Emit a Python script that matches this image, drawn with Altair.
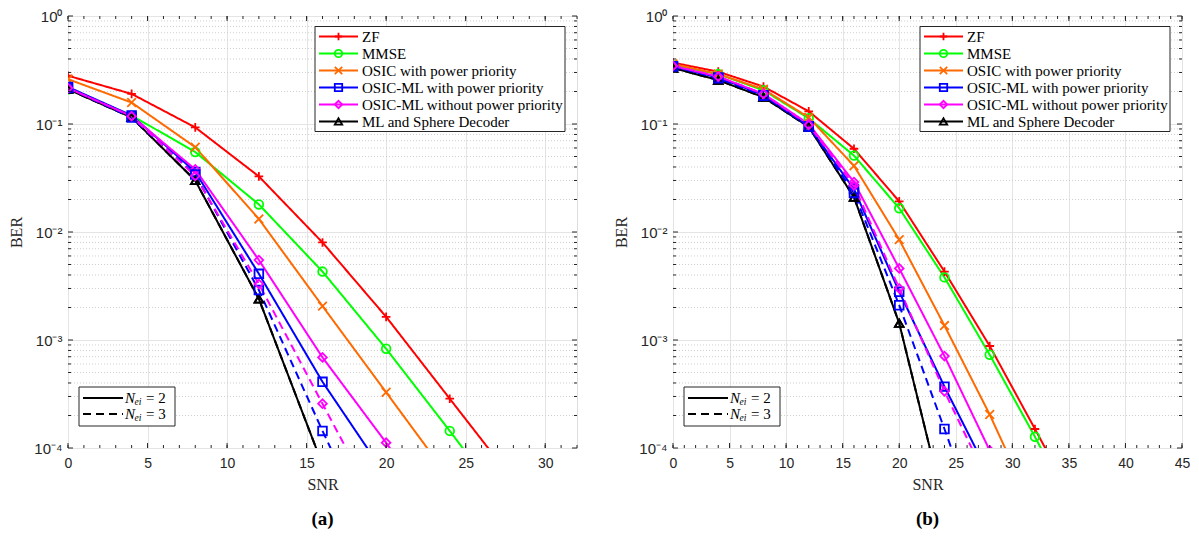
import altair as alt
import pandas as pd

SNR = [0, 4, 8, 12, 16, 20, 24, 28, 32, 36]

SERIES = ["ZF", "MMSE", "OSIC with power priority", "OSIC-ML with power priority",
          "OSIC-ML without power priority", "ML and Sphere Decoder"]
COLORS = ["#ff0000", "#00ff00", "#ff6a00", "#0000ff", "#ff00ff", "#000000"]
SHAPES = ["M-1,0L1,0M0,-1L0,1", "circle", "M-1,-1L1,1M-1,1L1,-1", "square", "diamond", "triangle-up"]
NEI = ["2", "3"]
NEI_LABELS = ["= 2", "= 3"]

# ---- panel (a) ----
A_ZF = [0.28, 0.19, 0.093, 0.0327, 0.008, 0.00164, 2.86e-4, 5.0e-5]
A_MMSE = [0.21, 0.12, 0.055, 0.018, 0.0043, 8.3e-4, 1.44e-4, 2.4e-5]
A_OSIC = [0.26, 0.158, 0.061, 0.0132, 0.00206, 3.28e-4, 5.2e-5]
A_OSICML_PP_2 = [0.22, 0.12, 0.036, 0.0041, 4.1e-4, 5.5e-5]
A_OSICML_NPP_2 = [0.215, 0.118, 0.038, 0.0055, 6.9e-4, 1.12e-4, 1.6e-5]
A_ML_2 = [0.21, 0.115, 0.03, 0.0024, 7e-5]
A_OSICML_PP_3 = [0.215, 0.115, 0.034, 0.0029, 1.44e-4, 8e-6]
A_OSICML_NPP_3 = [0.215, 0.118, 0.033, 0.0033, 2.57e-4, 2e-5]
A_ML_3 = [0.21, 0.115, 0.03, 0.0024, 7e-5]

# ---- panel (b) ----
B_ZF = [0.37, 0.305, 0.222, 0.131, 0.059, 0.0192, 0.0043, 8.8e-4, 1.5e-4, 2.5e-5]
B_MMSE = [0.35, 0.29, 0.205, 0.113, 0.051, 0.0166, 0.0038, 7.3e-4, 1.27e-4, 2.0e-5]
B_OSIC = [0.36, 0.29, 0.21, 0.115, 0.041, 0.0085, 0.00136, 2.04e-4, 2.5e-5]
B_OSICML_PP_2 = [0.34, 0.27, 0.185, 0.095, 0.025, 0.0028, 3.7e-4, 5.5e-5]
B_OSICML_NPP_2 = [0.345, 0.275, 0.19, 0.1, 0.029, 0.0046, 7.1e-4, 9.5e-5, 1.2e-5]
B_ML_2 = [0.33, 0.255, 0.177, 0.094, 0.021, 0.00143, 2.8e-5]
B_OSICML_PP_3 = [0.34, 0.265, 0.183, 0.095, 0.023, 0.0021, 1.5e-4, 1e-5]
B_OSICML_NPP_3 = [0.345, 0.275, 0.19, 0.098, 0.027, 0.003, 3.35e-4, 4.5e-5]
B_ML_3 = [0.33, 0.255, 0.177, 0.094, 0.021, 0.00143, 2.8e-5]

CURVES = [
    ("a", SERIES[0], "2", A_ZF), ("a", SERIES[1], "2", A_MMSE), ("a", SERIES[2], "2", A_OSIC),
    ("a", SERIES[5], "2", A_ML_2), ("a", SERIES[3], "2", A_OSICML_PP_2), ("a", SERIES[4], "2", A_OSICML_NPP_2),
    ("a", SERIES[5], "3", A_ML_3), ("a", SERIES[3], "3", A_OSICML_PP_3), ("a", SERIES[4], "3", A_OSICML_NPP_3),
    ("b", SERIES[0], "2", B_ZF), ("b", SERIES[1], "2", B_MMSE), ("b", SERIES[2], "2", B_OSIC),
    ("b", SERIES[5], "2", B_ML_2), ("b", SERIES[3], "2", B_OSICML_PP_2), ("b", SERIES[4], "2", B_OSICML_NPP_2),
    ("b", SERIES[5], "3", B_ML_3), ("b", SERIES[3], "3", B_OSICML_PP_3), ("b", SERIES[4], "3", B_OSICML_NPP_3),
]

rows = []
for k, (p, s, n, vals) in enumerate(CURVES):
    for i, v in enumerate(vals):
        rows.append({"panel": p, "series": s, "nei": n, "key": f"{k:02d}", "snr": SNR[i], "ber": v})
df = pd.DataFrame(rows)

W, H = 509, 432
AX = "#262626"
SERIF = "Liberation Serif"
SANS = "Liberation Sans"

color_scale = alt.Scale(domain=SERIES, range=COLORS)
shape_scale = alt.Scale(domain=SERIES, range=SHAPES)
dash_scale = alt.Scale(domain=NEI, range=[[1, 0], [8, 5]])

y_label_expr = ("datum.value > 0.5 ? '10⁰' : datum.value > 0.05 ? '10⁻¹' : "
                "datum.value > 0.005 ? '10⁻²' : datum.value > 0.0005 ? '10⁻³' : '10⁻⁴'")

minor_y = pd.DataFrame({"v": [m * 10.0 ** e for e in range(-4, 0) for m in range(2, 10)]})
major_y = pd.DataFrame({"v": [1e-4, 1e-3, 1e-2, 1e-1, 1.0]})
one = pd.DataFrame({"z": [0]})


def make_panel(pid, xmax, caption):
    d = df[df.panel == pid]
    xs = alt.Scale(domain=[0, xmax], nice=False, zero=False)
    ys = alt.Scale(type="log", domain=[1e-4, 1], nice=False)
    xaxis = alt.Axis(values=list(range(0, xmax + 1, 5)), title="SNR", grid=True, ticks=False,
                     domain=False, labelFont=SANS, labelFontSize=14, labelColor=AX, labelPadding=8,
                     titleFont=SERIF, titleFontSize=16, titleFontWeight="normal", titleColor=AX,
                     titlePadding=6, gridColor="#e4e4e4", labelFlush=False)
    yaxis = alt.Axis(values=[1e-4, 1e-3, 1e-2, 1e-1, 1.0], labelExpr=y_label_expr, title="BER",
                     grid=True, ticks=False, domain=False, labelFont=SANS, labelFontSize=15,
                     labelColor=AX, labelPadding=6, titleFont=SERIF, titleFontSize=16,
                     titleFontWeight="normal", titleColor=AX, titlePadding=9, gridColor="#e4e4e4")

    xminor = pd.DataFrame({"t": list(range(0, xmax + 1))})
    xmajor = pd.DataFrame({"t": list(range(0, xmax + 1, 5))})

    layers = []
    # minor y grid
    layers.append(alt.Chart(minor_y).mark_rule(color="#cfcfcf", strokeDash=[1, 2], strokeWidth=1).encode(
        y=alt.Y("v:Q", scale=ys, axis=yaxis), x=alt.value(0), x2=alt.value(W)))
    # data lines
    layers.append(alt.Chart(d).mark_line(strokeWidth=2, clip=True).encode(
        x=alt.X("snr:Q", scale=xs, axis=xaxis),
        y=alt.Y("ber:Q", scale=ys, axis=yaxis),
        color=alt.Color("series:N", scale=color_scale, legend=None),
        strokeDash=alt.StrokeDash("nei:N", scale=dash_scale, legend=None),
        detail="key:N", order="snr:Q"))
    # markers
    layers.append(alt.Chart(d).mark_point(filled=False, strokeWidth=1.8, size=75, clip=True, opacity=1).encode(
        x=alt.X("snr:Q", scale=xs, axis=xaxis),
        y=alt.Y("ber:Q", scale=ys, axis=yaxis),
        color=alt.Color("series:N", scale=color_scale, legend=None),
        shape=alt.Shape("series:N", scale=shape_scale, legend=None)))
    # inward ticks (x bottom/top, y left/right)
    for df_t, ln in ((xminor, 3), (xmajor, 5)):
        layers.append(alt.Chart(df_t).mark_rule(color=AX, strokeWidth=1).encode(
            x=alt.X("t:Q", scale=xs, axis=xaxis), y=alt.value(H), y2=alt.value(H - ln)))
        layers.append(alt.Chart(df_t).mark_rule(color=AX, strokeWidth=1).encode(
            x=alt.X("t:Q", scale=xs, axis=xaxis), y=alt.value(0), y2=alt.value(ln)))
    for df_t, ln in ((minor_y, 3), (major_y, 5)):
        layers.append(alt.Chart(df_t).mark_rule(color=AX, strokeWidth=1).encode(
            y=alt.Y("v:Q", scale=ys, axis=yaxis), x=alt.value(0), x2=alt.value(ln)))
        layers.append(alt.Chart(df_t).mark_rule(color=AX, strokeWidth=1).encode(
            y=alt.Y("v:Q", scale=ys, axis=yaxis), x=alt.value(W), x2=alt.value(W - ln)))

    # main legend
    lx0, lx1 = 247, 497
    leg = pd.DataFrame({"series": SERIES, "ly": [20.5 + 17.0 * i for i in range(len(SERIES))]})
    layers.append(alt.Chart(one).mark_rect(fill="white", stroke=AX, strokeWidth=1).encode(
        x=alt.value(lx0), x2=alt.value(lx1), y=alt.value(10.5), y2=alt.value(115.5)))
    layers.append(alt.Chart(leg).mark_rule(strokeWidth=2).encode(
        x=alt.value(lx0 + 4), x2=alt.value(lx0 + 43),
        y=alt.Y("ly:Q", scale=None, axis=None),
        color=alt.Color("series:N", scale=color_scale, legend=None)))
    layers.append(alt.Chart(leg).mark_point(filled=False, strokeWidth=1.8, size=55, opacity=1).encode(
        x=alt.value(lx0 + 23.5), y=alt.Y("ly:Q", scale=None, axis=None),
        color=alt.Color("series:N", scale=color_scale, legend=None),
        shape=alt.Shape("series:N", scale=shape_scale, legend=None)))
    layers.append(alt.Chart(leg).mark_text(align="left", baseline="middle", font=SERIF, fontSize=15,
                                           color="black").encode(
        x=alt.value(lx0 + 47), y=alt.Y("ly:Q", scale=None, axis=None), text="series:N"))

    # line-style legend
    nl = pd.DataFrame({"nei": NEI, "lab": NEI_LABELS, "ly": [H - 50.0, H - 34.0]})
    layers.append(alt.Chart(one).mark_rect(fill="white", stroke=AX, strokeWidth=1).encode(
        x=alt.value(11), x2=alt.value(107), y=alt.value(H - 61), y2=alt.value(H - 22)))
    layers.append(alt.Chart(nl).mark_rule(strokeWidth=2, color="black").encode(
        x=alt.value(15), x2=alt.value(55), y=alt.Y("ly:Q", scale=None, axis=None),
        strokeDash=alt.StrokeDash("nei:N", scale=dash_scale, legend=None)))
    layers.append(alt.Chart(nl).mark_text(align="left", baseline="middle", font=SERIF, fontSize=15,
                                          fontStyle="italic", color="black").encode(
        x=alt.value(57), y=alt.Y("ly:Q", scale=None, axis=None), text=alt.value("N")))
    layers.append(alt.Chart(nl).mark_text(align="left", baseline="middle", font=SERIF, fontSize=9.5,
                                          fontStyle="italic", color="black", dy=4).encode(
        x=alt.value(66.5), y=alt.Y("ly:Q", scale=None, axis=None), text=alt.value("ei")))
    layers.append(alt.Chart(nl).mark_text(align="left", baseline="middle", font=SERIF, fontSize=15,
                                          color="black").encode(
        x=alt.value(78), y=alt.Y("ly:Q", scale=None, axis=None), text="lab:N"))

    return alt.layer(*layers).properties(
        width=W, height=H,
        title=alt.TitleParams(caption, orient="bottom", anchor="middle", frame="group", font=SERIF,
                              fontSize=19, fontWeight="bold", color="black", offset=18))


chart = alt.hconcat(make_panel("a", 32, "(a)"), make_panel("b", 45, "(b)"), spacing=35).properties(
    padding={"left": 0, "top": 0, "right": 0, "bottom": 0}
).configure_view(stroke=AX, strokeWidth=1).configure(background="white")

chart.save("out.html", embed_options={"renderer": "svg", "actions": False})
